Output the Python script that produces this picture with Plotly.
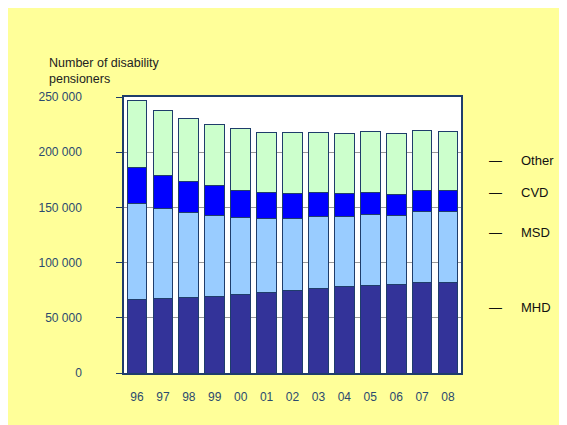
import plotly.graph_objects as go

years = ["96", "97", "98", "99", "00", "01", "02", "03", "04", "05", "06", "07", "08"]
mhd = [66700, 67300, 68200, 69500, 70900, 72700, 74600, 76500, 78200, 79700, 80600, 81800, 82400]
msd = [87000, 81900, 77000, 73600, 69800, 67100, 65800, 65100, 64000, 64000, 62500, 64700, 64300]
cvd = [32300, 30100, 28400, 26600, 24800, 24100, 22600, 21700, 20600, 20000, 18800, 18400, 18200]
other = [60400, 58600, 57100, 55600, 55800, 54100, 54400, 54400, 53700, 54900, 54600, 54600, 54000]

series_names = ["MHD", "MSD", "CVD", "Other"]
series_values = [mhd, msd, cvd, other]
series_colors = ["#333399", "#99CCFF", "#0000FF", "#CCFFCC"]

y_tick_vals = [0, 50000, 100000, 150000, 200000, 250000]
y_tick_text = ["0", "50 000", "100 000", "150 000", "200 000", "250 000"]
y_title_lines = ["Number of disability", "pensioners"]

FONT = "Liberation Sans, Arial, sans-serif"
TICK_COLOR = "#2B4A6F"
NAVY = "#1F3D6B"

fig = go.Figure()
for name, vals, col in zip(series_names, series_values, series_colors):
    fig.add_trace(go.Bar(
        x=years, y=vals, name=name,
        marker=dict(color=col, line=dict(color=NAVY, width=1)),
    ))

# legend-like labels on the right (top to bottom: Other, CVD, MSD, MHD)
legend_y = {"Other": 0.7692, "CVD": 0.6547, "MSD": 0.5098, "MHD": 0.2380}
annotations = []
for name in series_names:
    yy = legend_y[name]
    annotations.append(dict(xref="paper", yref="paper", x=1.1009, y=yy,
                            text="\u2014", showarrow=False, xanchor="center", yanchor="middle",
                            font=dict(family=FONT, size=13, color="#111111")))
    annotations.append(dict(xref="paper", yref="paper", x=1.1710, y=yy,
                            text=name, showarrow=False, xanchor="left", yanchor="middle",
                            font=dict(family=FONT, size=13, color="#111111")))

annotations.append(dict(xref="paper", yref="paper", x=-0.2286, y=1.1558,
                        text="<br>".join(y_title_lines), showarrow=False,
                        xanchor="left", yanchor="top", align="left",
                        font=dict(family=FONT, size=12.5, color="#222222")))

fig.update_layout(
    width=567, height=425,
    barmode="stack", bargap=0.24,
    showlegend=False,
    paper_bgcolor="#FFFF99",
    plot_bgcolor="#FFFFFF",
    margin=dict(l=116, r=114, t=89, b=60, autoexpand=False),
    font=dict(family=FONT, size=12, color=TICK_COLOR),
    annotations=annotations,
    xaxis=dict(
        type="category", showline=True, linecolor=NAVY, linewidth=1.5, mirror=True,
        ticks="", ticklabelstandoff=12, tickfont=dict(family=FONT, size=12, color=TICK_COLOR),
        showgrid=False, fixedrange=True,
    ),
    yaxis=dict(
        range=[0, 250000], tickvals=y_tick_vals, ticktext=y_tick_text,
        showline=True, linecolor=NAVY, linewidth=1.5, mirror=True,
        ticks="outside", ticklen=6, tickcolor=NAVY, tickwidth=1,
        ticklabelstandoff=32,
        showgrid=True, gridcolor="#999999", gridwidth=1,
        zeroline=False,
        tickfont=dict(family=FONT, size=12, color=TICK_COLOR),
        fixedrange=True,
    ),
)

fig.write_html("out.html")
